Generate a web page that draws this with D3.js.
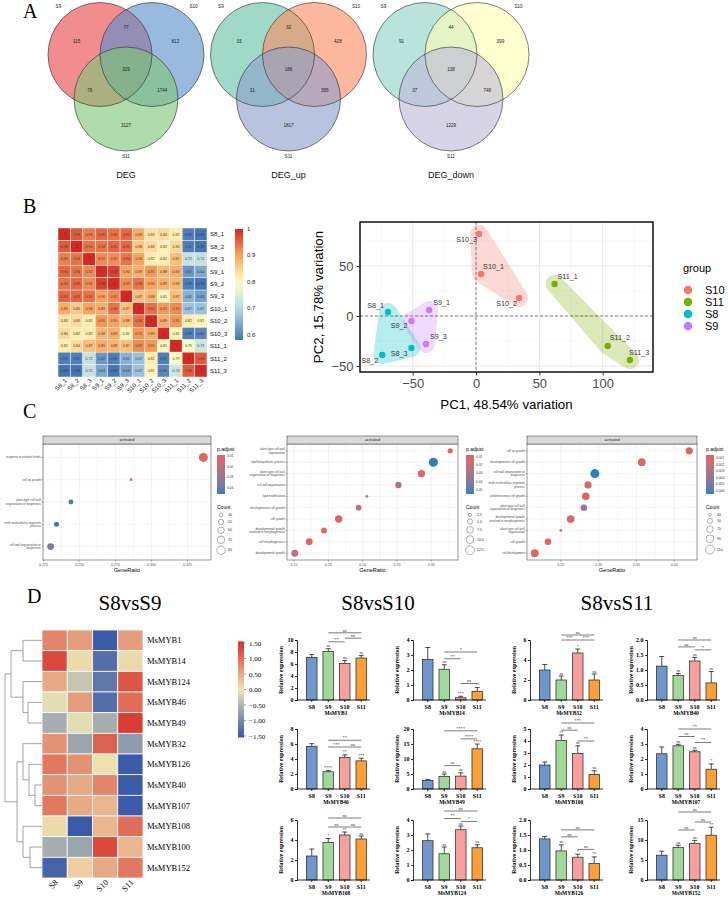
<!DOCTYPE html>
<html>
<head>
<meta charset="utf-8">
<script src="https://cdn.jsdelivr.net/npm/d3@7"></script>
<style>
  body { margin: 0; background: #fff; }
  svg { display: block; }
</style>
</head>
<body>
<svg id="fig" width="728" height="898"></svg>
<script>
// ---------------- data ----------------

// A: venn diagrams. regions: S9 only, S9&S10, S10 only, all, S9&S11, S10&S11, S11 only
const vennTitles = ['DEG', 'DEG_up', 'DEG_down'];
const vennSets = ['S9', 'S10', 'S11'];
const vennCounts = [
  [115, 77, 812, 329, 76, 1744, 3127],
  [33, 32, 428, 186, 31, 395, 1817],
  [91, 44, 399, 138, 37, 748, 1229]
];
const vennColors = [
  ['#e8474b', '#5b8fcb', '#7ec676'],
  ['#66c2a5', '#fc8d62', '#8da0cb'],
  ['#8dd3c7', '#ffffb3', '#bebada']
];

// B: sample correlation heatmap
const corrSamples = ['S8_1', 'S8_2', 'S8_3', 'S9_1', 'S9_2', 'S9_3', 'S10_1', 'S10_2', 'S10_3', 'S11_1', 'S11_2', 'S11_3'];
const corrRows = [
  [1, .96, .93, .95, .94, .95, .89, .83, .84, .82, .59, .58],
  [.96, 1, .94, .94, .95, .95, .86, .84, .82, .84, .59, .58],
  [.93, .94, 1, .92, .92, .94, .90, .82, .82, .87, .72, .72],
  [.95, .94, .92, 1, .98, .90, .89, .91, .88, .89, .62, .64],
  [.94, .95, .92, .98, 1, .92, .94, .90, .89, .88, .59, .58],
  [.95, .95, .94, .90, .92, 1, .87, .88, .81, .87, .65, .63],
  [.89, .86, .90, .89, .94, .87, 1, .94, .91, .92, .67, .67],
  [.83, .84, .82, .91, .90, .88, .94, 1, .89, .91, .82, .81],
  [.84, .82, .82, .88, .89, .81, .91, .89, 1, .81, .59, .60],
  [.82, .84, .87, .89, .88, .87, .92, .91, .81, 1, .79, .73],
  [.59, .59, .72, .62, .59, .65, .67, .82, .59, .79, 1, .96],
  [.58, .58, .72, .64, .58, .63, .67, .81, .60, .73, .96, 1]
];
const corrTicks = [0.6, 0.7, 0.8, 0.9, 1];

// B: PCA
const pcaSamples = ['S10_1', 'S10_2', 'S10_3', 'S11_1', 'S11_2', 'S11_3', 'S8_1', 'S8_2', 'S8_3', 'S9_1', 'S9_2', 'S9_3'];
const pcaGroups = ['S10', 'S10', 'S10', 'S11', 'S11', 'S11', 'S8', 'S8', 'S8', 'S9', 'S9', 'S9'];
const pc1 = [4, 34, 2.4, 62, 104, 121.5, -69.5, -74, -51, -37, -51, -39.5];
const pc2 = [42, 18, 82, 32, -30, -44, 4, -39, -32, 6, -5, -28];
const groupNames = ['S10', 'S11', 'S8', 'S9'];
const pcaXLim = [-91.6, 139.7];
const pcaYLim = [-56, 94];
const pcaXTicks = [-50, 0, 50, 100];
const pcaYTicks = [-50, 0, 50];

// C: GO dot plots
const goLeftTerms = ['response to nutrient levels', 'cell tip growth', 'plant-type cell wall organization or biogenesis', 'multi-multicellular organism process', 'cell wall organization or biogenesis'];
const goLeftRatio = [0.336, 0.2858, 0.244, 0.234, 0.2299];
const goLeftCount = [86, 36, 47, 48, 63];
const goLeftPadj = [0.009, 0.018, 0.044, 0.046, 0.036];
const goLeftTicks = [0.225, 0.25, 0.275, 0.3, 0.325];
const goLeftCountBreaks = [40, 50, 60, 70, 80];
const goLeftPadjBreaks = [0.01, 0.02, 0.03, 0.04];

const goMidTerms = ['plant-type cell wall organization', 'lipid biosynthetic process', 'plant-type cell wall organization or biogenesis', 'cell wall organization', 'lipid modification', 'developmental cell growth', 'cell growth', 'developmental growth involved in morphogenesis', 'cell morphogenesis', 'developmental growth'];
const goMidRatio = [0.3275, 0.303, 0.2855, 0.252, 0.206, 0.194, 0.165, 0.1435, 0.122, 0.101];
const goMidCount = [5, 13, 9, 7, 2, 6, 9, 6, 8, 8];
const goMidPadj = [0.012, 0.055, 0.008, 0.025, 0.02, 0.022, 0.009, 0.01, 0.009, 0.018];
const goMidTicks = [0.1, 0.15, 0.2, 0.25, 0.3];
const goMidCountBreaks = [2.5, 5, 7.5, 10, 12.5];
const goMidPadjBreaks = [0.01, 0.02, 0.03, 0.04, 0.05];

const goRightTerms = ['cell tip growth', 'developmental cell growth', 'cell wall organization or biogenesis', 'multi-multicellular organism process', 'unidimensional cell growth', 'plant-type cell wall organization or biogenesis', 'developmental growth involved in morphogenesis', 'plant-type cell wall organization', 'cell growth', 'cell development'];
const goRightRatio = [0.4198, 0.357, 0.295, 0.286, 0.283, 0.2805, 0.263, 0.25, 0.233, 0.2155];
const goRightCount = [80, 90, 112, 80, 88, 70, 88, 30, 70, 90];
const goRightPadj = [0.0005, 0.0008, 0.0065, 0.0012, 0.001, 0.0035, 0.0009, 0.0015, 0.0007, 0.0006];
const goRightTicks = [0.25, 0.3, 0.35, 0.4];
const goRightCountBreaks = [30, 50, 70, 90, 110];
const goRightPadjBreaks = [0.001, 0.002, 0.003, 0.004, 0.005, 0.006];

// D: MYB expression heatmap (z-scores)
const stages = ['S8', 'S9', 'S10', 'S11'];
const mybGenes = ['MsMYB1', 'MsMYB14', 'MsMYB124', 'MsMYB46', 'MsMYB49', 'MsMYB32', 'MsMYB126', 'MsMYB40', 'MsMYB107', 'MsMYB108', 'MsMYB100', 'MsMYB152'];
const mybZ = [
  [0.8, 0.6, -1.5, 0.6],
  [1.3, 0.1, -1.3, 0.1],
  [0.5, -0.35, -1.2, 1.2],
  [-0.1, 0.6, -1.3, 1.0],
  [-0.6, -0.1, -0.6, 1.4],
  [0.7, -0.7, 1.1, -0.8],
  [0.9, 0.7, 0.05, -1.5],
  [0.7, 0.5, 0.8, -1.5],
  [0.9, 0.5, 0.4, -1.5],
  [0.1, -1.5, 0.4, 1.0],
  [-0.6, -0.7, 1.3, 0.4],
  [-1.4, 0.2, 0.5, 0.9]
];
const mybTree = { h: 37, children: [
  { h: 31, children: [
    { h: 19, children: [{ name: 'MsMYB1' }, { name: 'MsMYB14' }] },
    { h: 19, children: [{ name: 'MsMYB124' }, { h: 14, children: [{ name: 'MsMYB46' }, { name: 'MsMYB49' }] }] }
  ] },
  { h: 25, children: [
    { h: 19, children: [{ name: 'MsMYB32' }, { h: 13, children: [{ name: 'MsMYB126' }, { h: 7, children: [{ name: 'MsMYB40' }, { name: 'MsMYB107' }] }] }] },
    { h: 19, children: [{ name: 'MsMYB108' }, { h: 12, children: [{ name: 'MsMYB100' }, { name: 'MsMYB152' }] }] }
  ] }
] };
const zTicks = [1.5, 1, 0.5, 0, -0.5, -1, -1.5];

// D: qPCR bar charts
const qGenes = ['MsMYB1', 'MsMYB14', 'MsMYB32', 'MsMYB40', 'MsMYB46', 'MsMYB49', 'MsMYB100', 'MsMYB107', 'MsMYB108', 'MsMYB124', 'MsMYB126', 'MsMYB152'];
const qMean = [
  [7.1, 8.1, 6.1, 7.0], [2.7, 2.05, 0.15, 0.58], [3.0, 2.0, 4.7, 2.0], [1.13, 0.82, 1.3, 0.57],
  [5.7, 2.3, 4.2, 3.75], [2.8, 4.2, 4.3, 13.4], [2.0, 4.05, 2.95, 1.22], [2.35, 2.88, 2.48, 1.32],
  [2.4, 3.75, 4.5, 4.1], [2.62, 1.75, 3.35, 2.15], [1.37, 0.97, 0.76, 0.55], [6.2, 8.1, 9.1, 11.2]
];
const qErr = [
  [0.5, 0.45, 0.5, 0.4], [0.8, 0.3, 0.1, 0.25], [0.55, 0.4, 0.4, 0.6], [0.32, 0.06, 0.12, 0.38],
  [0.35, 0.15, 0.35, 0.35], [0.4, 0.8, 1.1, 1.6], [0.25, 0.45, 0.65, 0.3], [0.45, 0.1, 0.1, 0.35],
  [0.7, 0.4, 0.3, 0.3], [0.45, 0.45, 0.25, 0.2], [0.08, 0.2, 0.1, 0.22], [1.0, 0.6, 0.8, 2.0]
];
const qYMax = [10, 4, 6, 2, 8, 20, 5, 4, 6, 4, 2, 15];
const qYStep = [2, 1, 2, 0.5, 2, 5, 1, 1, 2, 1, 0.5, 5];
const qSig = [
  ['', 'ns', 'ns', 'ns'], ['', 'ns', '***', '**'], ['', 'ns', '*', 'ns'], ['', 'ns', 'ns', 'ns'],
  ['', '****', '**', '***'], ['', 'ns', 'ns', '****'], ['', '**', 'ns', 'ns'], ['', 'ns', 'ns', '*'],
  ['', '*', '**', 'ns'], ['', 'ns', 'ns', 'ns'], ['', 'ns', '*', '**'], ['', 'ns', 'ns', '**']
];
// [from, to, height, label]
const qBrackets = [
  [[1, 3, 11.2, 'ns'], [2, 3, 10.3, 'ns'], [1, 2, 9.7, '**']],
  [[1, 3, 3.2, '*'], [1, 2, 2.75, '**'], [2, 3, 1.1, 'ns']],
  [[1, 3, 6.5, 'ns'], [1, 2, 6.0, '***'], [2, 3, 6.0, '***']],
  [[1, 3, 2.0, 'ns'], [1, 2, 1.77, 'ns'], [2, 3, 1.67, '*']],
  [[1, 3, 6.5, '**'], [1, 2, 5.6, '***'], [2, 3, 5.6, 'ns']],
  [[1, 3, 19.4, '****'], [2, 3, 16.7, '****'], [1, 2, 7.8, 'ns']],
  [[1, 3, 5.5, '***'], [1, 2, 4.9, 'ns'], [2, 3, 4.0, '**']],
  [[1, 3, 4.0, '**'], [1, 2, 3.5, 'ns'], [2, 3, 3.1, '**']],
  [[1, 3, 6.2, 'ns'], [1, 2, 5.3, 'ns'], [2, 3, 5.3, 'ns']],
  [[1, 3, 4.6, 'ns'], [1, 2, 4.1, '**'], [2, 3, 3.9, '*']],
  [[1, 3, 1.67, 'ns'], [1, 2, 1.44, 'ns'], [2, 3, 1.02, 'ns']],
  [[1, 3, 17.0, 'ns'], [2, 3, 14.5, 'ns'], [1, 2, 12.5, 'ns']]
];

// ---------------- drawing ----------------
const SANS = "'Liberation Sans', Arial, sans-serif";
const SERIF = "'Liberation Serif', 'Times New Roman', serif";
const svg = d3.select('#fig');
const defs = svg.append('defs');

function txt(g, x, y, s, size, opts = {}) {
  return g.append('text')
    .attr('x', x).attr('y', y)
    .attr('font-family', opts.family || SANS)
    .attr('font-size', size)
    .attr('font-weight', opts.weight || null)
    .attr('fill', opts.fill || '#000')
    .attr('text-anchor', opts.anchor || 'start')
    .text(s);
}

// panel letters
[['A', 23, 18], ['B', 23, 213], ['C', 23, 418], ['D', 27, 603]].forEach(([t, x, y]) => txt(svg, x, y, t, 20, { family: SERIF }));

// ---- A: venns ----
const vennR = 52;
const vennBase = [[100, 54.5], [152, 54.5], [126, 99]];
vennTitles.forEach((title, vi) => {
  const ox = vi * 162.5;
  const g = svg.append('g');
  const cs = vennBase.map(([x, y]) => [x + ox, y]);
  cs.forEach((c, i) => g.append('circle').attr('cx', c[0]).attr('cy', c[1]).attr('r', vennR)
    .attr('fill', vennColors[vi][i]).attr('fill-opacity', 0.62));
  cs.forEach(c => g.append('circle').attr('cx', c[0]).attr('cy', c[1]).attr('r', vennR)
    .attr('fill', 'none').attr('stroke', '#2b2b2b').attr('stroke-width', 0.6));
  const G = [d3.mean(cs, c => c[0]), d3.mean(cs, c => c[1])];
  const away = (p, k) => [G[0] + k * (p[0] - G[0]), G[1] + k * (p[1] - G[1])];
  const mid = (a, b) => [(a[0] + b[0]) / 2, (a[1] + b[1]) / 2];
  const spots = [
    away(cs[0], 1.9), away(mid(cs[0], cs[1]), 2.79), away(cs[1], 1.9), G,
    away(mid(cs[0], cs[2]), 2.79), away(mid(cs[1], cs[2]), 2.79), away(cs[2], 1.9)
  ];
  vennCounts[vi].forEach((n, i) => txt(g, spots[i][0], spots[i][1] + 1.5, n, 4.6, { anchor: 'middle', fill: '#222' }));
  txt(g, cs[0][0] - 0.8 * vennR, cs[0][1] - 0.93 * vennR + 1.5, vennSets[0], 4.6, { anchor: 'middle', fill: '#222' });
  txt(g, cs[1][0] + 0.8 * vennR, cs[1][1] - 0.93 * vennR + 1.5, vennSets[1], 4.6, { anchor: 'middle', fill: '#222' });
  txt(g, cs[2][0], cs[2][1] + vennR + 6.5, vennSets[2], 4.6, { anchor: 'middle', fill: '#222' });
  txt(g, ox + 126, 178, title, 9, { anchor: 'middle', fill: '#111' });
});

// ---- B: correlation heatmap ----
{
  const g = svg.append('g');
  const cx = d3.scaleBand().domain(corrSamples).range([58, 207]);
  const cy = d3.scaleBand().domain(corrSamples).range([228, 377]);
  const col = d3.scaleLinear().domain([0.58, 0.7, 0.8, 0.9, 1])
    .range(['#4575b4', '#b7dbea', '#ffffbf', '#fba35c', '#d02a25']);
  corrRows.forEach((row, i) => row.forEach((v, j) => {
    g.append('rect').attr('x', cx(corrSamples[j])).attr('y', cy(corrSamples[i]))
      .attr('width', cx.bandwidth()).attr('height', cy.bandwidth())
      .attr('fill', col(v)).attr('stroke', '#f4f4f4').attr('stroke-width', 0.5);
    txt(g, cx(corrSamples[j]) + cx.bandwidth() / 2, cy(corrSamples[i]) + cy.bandwidth() / 2 + 1.3,
      v === 1 ? '1' : d3.format('.2f')(v), 3.6, { anchor: 'middle', fill: '#3a3a3a' });
  }));
  corrSamples.forEach(s => {
    txt(g, 210, cy(s) + cy.bandwidth() / 2 + 2.2, s, 6, { fill: '#111' });
    g.append('text').attr('transform', `translate(${cx(s) + cx.bandwidth() / 2 + 3},${381}) rotate(-45)`)
      .attr('font-family', SANS).attr('font-size', 6).attr('text-anchor', 'end').attr('fill', '#111').text(s);
  });
  // colour key
  const ky = d3.scaleLinear().domain([0.58, 1]).range([340, 229]);
  const gid = 'corrGrad';
  const lg = defs.append('linearGradient').attr('id', gid).attr('x1', 0).attr('y1', 1).attr('x2', 0).attr('y2', 0);
  d3.range(0, 1.0001, 0.05).forEach(t => lg.append('stop').attr('offset', t).attr('stop-color', col(0.58 + t * 0.42)));
  g.append('rect').attr('x', 235).attr('y', ky(1)).attr('width', 8).attr('height', ky(0.58) - ky(1)).attr('fill', `url(#${gid})`);
  corrTicks.forEach(t => txt(g, 247, ky(t) + 2, t === 1 ? '1' : d3.format('.1f')(t), 6, { fill: '#222' }));
}

// ---- B: PCA ----
{
  const g = svg.append('g');
  const L = 360, R = 653, T = 222, B = 372;
  const x = d3.scaleLinear().domain(pcaXLim).range([L, R]);
  const y = d3.scaleLinear().domain(pcaYLim).range([B, T]);
  const color = d3.scaleOrdinal().domain(groupNames).range(['#F8766D', '#7CAE00', '#00BFC4', '#C77CFF']);
  defs.append('clipPath').attr('id', 'pcaClip').append('rect').attr('x', L).attr('y', T).attr('width', R - L).attr('height', B - T);
  g.append('rect').attr('x', L).attr('y', T).attr('width', R - L).attr('height', B - T).attr('fill', '#fff');
  const minorX = [-75, -25, 25, 75, 125], minorY = [-25, 25, 75];
  minorX.forEach(v => g.append('line').attr('x1', x(v)).attr('x2', x(v)).attr('y1', T).attr('y2', B).attr('stroke', '#f3f3f3').attr('stroke-width', 0.6));
  minorY.forEach(v => g.append('line').attr('y1', y(v)).attr('y2', y(v)).attr('x1', L).attr('x2', R).attr('stroke', '#f3f3f3').attr('stroke-width', 0.6));
  pcaXTicks.forEach(v => g.append('line').attr('x1', x(v)).attr('x2', x(v)).attr('y1', T).attr('y2', B).attr('stroke', '#e8e8e8').attr('stroke-width', 1));
  pcaYTicks.forEach(v => g.append('line').attr('y1', y(v)).attr('y2', y(v)).attr('x1', L).attr('x2', R).attr('stroke', '#e8e8e8').attr('stroke-width', 1));

  const pts = pcaSamples.map((s, i) => ({ s, grp: pcaGroups[i], px: x(pc1[i]), py: y(pc2[i]) }));
  const hullG = g.append('g').attr('clip-path', 'url(#pcaClip)');
  groupNames.forEach(grp => {
    const ring = [];
    pts.filter(p => p.grp === grp).forEach(p => {
      for (let k = 0; k < 24; k++) {
        const a = k / 24 * 2 * Math.PI;
        ring.push([p.px + 9 * Math.cos(a), p.py + 9 * Math.sin(a)]);
      }
    });
    const hull = d3.polygonHull(ring);
    hullG.append('path').attr('d', 'M' + hull.join('L') + 'Z').attr('fill', color(grp)).attr('fill-opacity', 0.28);
  });
  g.append('line').attr('x1', x(0)).attr('x2', x(0)).attr('y1', T).attr('y2', B).attr('stroke', '#555').attr('stroke-width', 0.7).attr('stroke-dasharray', '3,2');
  g.append('line').attr('y1', y(0)).attr('y2', y(0)).attr('x1', L).attr('x2', R).attr('stroke', '#555').attr('stroke-width', 0.7).attr('stroke-dasharray', '3,2');

  pts.forEach(p => g.append('circle').attr('cx', p.px).attr('cy', p.py).attr('r', 3.2).attr('fill', color(p.grp)));
  const labelPos = {
    S10_3: [-2, 8, 'end'], S10_1: [2, -5, 'start'], S10_2: [-2, 8, 'end'],
    S11_1: [3, -5, 'start'], S11_2: [2, -6, 'start'], S11_3: [-1, -5, 'start'],
    S8_1: [-4, -4, 'end'], S8_2: [-4, 8, 'end'], S8_3: [-4, 8, 'end'],
    S9_1: [4, -5, 'start'], S9_2: [-4, 7, 'end'], S9_3: [4, -5, 'start']
  };
  pts.forEach(p => {
    const [dx, dy, anc] = labelPos[p.s];
    txt(g, p.px + dx, p.py + dy, p.s, 7.2, { anchor: anc, fill: '#333' });
  });
  g.append('rect').attr('x', L).attr('y', T).attr('width', R - L).attr('height', B - T)
    .attr('fill', 'none').attr('stroke', '#000').attr('stroke-width', 1.4);

  const ax = g.append('g').attr('transform', `translate(0,${B})`)
    .call(d3.axisBottom(x).tickValues(pcaXTicks).tickSize(3.5).tickPadding(3));
  const ay = g.append('g').attr('transform', `translate(${L},0)`)
    .call(d3.axisLeft(y).tickValues(pcaYTicks).tickSize(3.5).tickPadding(3));
  [ax, ay].forEach(a => {
    a.select('.domain').remove();
    a.selectAll('line').attr('stroke', '#333').attr('stroke-width', 1);
    a.selectAll('text').attr('font-family', SANS).attr('font-size', 13).attr('fill', '#4d4d4d');
  });
  txt(g, (L + R) / 2, 409, 'PC1, 48.54% variation', 13.3, { anchor: 'middle' });
  g.append('text').attr('transform', `translate(323,${(T + B) / 2}) rotate(-90)`)
    .attr('font-family', SANS).attr('font-size', 13.3).attr('text-anchor', 'middle').text('PC2, 15.78% variation');

  txt(g, 683, 272, 'group', 11);
  groupNames.forEach((grp, i) => {
    const yy = 290 + i * 12;
    g.append('circle').attr('cx', 688).attr('cy', yy).attr('r', 4.3).attr('fill', color(grp));
    txt(g, 705, yy + 4, grp, 11);
  });
}

// ---- C: GO dot plots ----
function wrapWords(s, width) {
  const lines = [];
  let cur = '';
  s.split(' ').forEach(w => {
    if (cur && (cur + ' ' + w).length > width) { lines.push(cur); cur = w; }
    else cur = cur ? cur + ' ' + w : w;
  });
  if (cur) lines.push(cur);
  return lines;
}

function drawGO(o) {
  const g = svg.append('g');
  const sTop = 436, pTop = 444, pBot = 560;
  const ext = d3.extent(o.ratio);
  const pad = (ext[1] - ext[0]) * 0.05;
  const x = d3.scaleLinear().domain([ext[0] - pad, ext[1] + pad]).range([o.x0, o.x1]);
  const y = d3.scalePoint().domain(o.terms).range([pTop, pBot]).padding(0.6);
  const r = d3.scaleRadial().domain(d3.extent(o.count)).range([1.4, 4.5]).clamp(true);
  const pd = d3.extent(o.padj);
  const color = d3.scaleLinear().domain(pd).range(['#e06663', '#327eba']).interpolate(d3.interpolateLab).clamp(true);

  g.append('rect').attr('x', o.x0).attr('y', pTop).attr('width', o.x1 - o.x0).attr('height', pBot - pTop).attr('fill', '#fff');
  const step = o.ticks[1] - o.ticks[0];
  o.ticks.forEach(t => {
    [t - step / 2, t + step / 2].forEach(v => {
      if (x(v) > o.x0 && x(v) < o.x1) g.append('line').attr('x1', x(v)).attr('x2', x(v)).attr('y1', pTop).attr('y2', pBot).attr('stroke', '#f5f5f5').attr('stroke-width', 0.4);
    });
    g.append('line').attr('x1', x(t)).attr('x2', x(t)).attr('y1', pTop).attr('y2', pBot).attr('stroke', '#ebebeb').attr('stroke-width', 0.6);
  });
  o.terms.forEach(t => g.append('line').attr('x1', o.x0).attr('x2', o.x1).attr('y1', y(t)).attr('y2', y(t)).attr('stroke', '#ebebeb').attr('stroke-width', 0.6));

  o.terms.forEach((t, i) => g.append('circle').attr('cx', x(o.ratio[i])).attr('cy', y(t))
    .attr('r', r(o.count[i])).attr('fill', color(o.padj[i])));

  g.append('rect').attr('x', o.x0).attr('y', pTop).attr('width', o.x1 - o.x0).attr('height', pBot - pTop)
    .attr('fill', 'none').attr('stroke', '#333').attr('stroke-width', 0.5);
  g.append('rect').attr('x', o.x0).attr('y', sTop).attr('width', o.x1 - o.x0).attr('height', pTop - sTop)
    .attr('fill', '#d9d9d9').attr('stroke', '#333').attr('stroke-width', 0.5);
  txt(g, (o.x0 + o.x1) / 2, sTop + 5.4, 'activated', 3.8, { anchor: 'middle', fill: '#1a1a1a' });

  o.terms.forEach(t => {
    const lines = wrapWords(t, 28);
    g.append('line').attr('x1', o.x0 - 1.5).attr('x2', o.x0).attr('y1', y(t)).attr('y2', y(t)).attr('stroke', '#333').attr('stroke-width', 0.4);
    lines.forEach((ln, k) => txt(g, o.x0 - 2.2, y(t) + 1.1 + (k - (lines.length - 1) / 2) * 3.4, ln, 3, { anchor: 'end', fill: '#4d4d4d' }));
  });
  o.ticks.forEach(v => {
    g.append('line').attr('x1', x(v)).attr('x2', x(v)).attr('y1', pBot).attr('y2', pBot + 1.5).attr('stroke', '#333').attr('stroke-width', 0.4);
    txt(g, x(v), pBot + 5.5, d3.format(o.tickFmt)(v), 3.6, { anchor: 'middle', fill: '#4d4d4d' });
  });
  txt(g, (o.x0 + o.x1) / 2, pBot + 12, 'GeneRatio', 5.5, { anchor: 'middle' });

  // legends
  const lx = o.lx;
  txt(g, lx, 451, 'p.adjust', 5);
  const gid = 'goGrad' + o.x0;
  const lg = defs.append('linearGradient').attr('id', gid).attr('x1', 0).attr('y1', 0).attr('x2', 0).attr('y2', 1);
  d3.range(0, 1.0001, 0.1).forEach(t => lg.append('stop').attr('offset', t).attr('stop-color', color(pd[0] + t * (pd[1] - pd[0]))));
  const ly = d3.scaleLinear().domain(pd).range([455, 494]);
  g.append('rect').attr('x', lx).attr('y', 455).attr('width', 8).attr('height', 39).attr('fill', `url(#${gid})`);
  o.padjBreaks.forEach(v => {
    if (v < pd[0] || v > pd[1]) return;
    txt(g, lx + 10, ly(v) + 1.2, d3.format(o.padjFmt)(v), 3.3, { fill: '#333' });
  });
  txt(g, lx, 509, 'Count', 5);
  let cy = 512;
  o.countBreaks.forEach(v => {
    const rr = r(v);
    cy += rr + 1.2;
    g.append('circle').attr('cx', lx + 4).attr('cy', cy).attr('r', rr).attr('fill', 'none').attr('stroke', '#333').attr('stroke-width', 0.4);
    txt(g, lx + 11, cy + 1.2, d3.format(o.countFmt)(v), 3.5, { fill: '#333' });
    cy += rr + 1.2;
  });
}

drawGO({ x0: 43, x1: 211, lx: 217, terms: goLeftTerms, ratio: goLeftRatio, count: goLeftCount, padj: goLeftPadj,
  ticks: goLeftTicks, tickFmt: '.3f', countBreaks: goLeftCountBreaks, countFmt: 'd', padjBreaks: goLeftPadjBreaks, padjFmt: '.2f' });
drawGO({ x0: 287, x1: 458, lx: 466, terms: goMidTerms, ratio: goMidRatio, count: goMidCount, padj: goMidPadj,
  ticks: goMidTicks, tickFmt: '.2f', countBreaks: goMidCountBreaks, countFmt: '.1f', padjBreaks: goMidPadjBreaks, padjFmt: '.2f' });
drawGO({ x0: 527, x1: 697, lx: 706, terms: goRightTerms, ratio: goRightRatio, count: goRightCount, padj: goRightPadj,
  ticks: goRightTicks, tickFmt: '.2f', countBreaks: goRightCountBreaks, countFmt: 'd', padjBreaks: goRightPadjBreaks, padjFmt: '.3f' });

// ---- D: titles ----
[['S8vsS9', 130], ['S8vsS10', 378], ['S8vsS11', 617]].forEach(([t, x]) => txt(svg, x, 610, t, 21, { family: SERIF, anchor: 'middle' }));

// ---- D: heatmap + dendrogram ----
{
  const g = svg.append('g');
  const hx = d3.scaleBand().domain(stages).range([42, 143]);
  const hy = d3.scaleBand().domain(mybGenes).range([630, 878]);
  const zc = d3.scaleLinear().domain([-1.5, 0, 1.5]).range(['#3b5ba8', '#efe6b4', '#d7312a']).clamp(true);
  mybZ.forEach((row, i) => row.forEach((v, j) => {
    g.append('rect').attr('x', hx(stages[j])).attr('y', hy(mybGenes[i]))
      .attr('width', hx.bandwidth()).attr('height', hy.bandwidth())
      .attr('fill', zc(v)).attr('stroke', '#fff').attr('stroke-width', 0.8);
  }));
  mybGenes.forEach(gn => txt(g, 147, hy(gn) + hy.bandwidth() / 2 + 3, gn, 8.5, { family: SERIF }));
  stages.forEach(s => g.append('text')
    .attr('transform', `translate(${hx(s) + hx.bandwidth() / 2 + 4},${883}) rotate(-45)`)
    .attr('font-family', SERIF).attr('font-size', 8.5).attr('text-anchor', 'end').text(s));

  // dendrogram
  const root = d3.hierarchy(mybTree);
  const dx = d3.scaleLinear().domain([0, mybTree.h]).range([42, 5]);
  root.eachAfter(n => {
    n.hy = n.children ? d3.mean(n.children, c => c.hy) : hy(n.data.name) + hy.bandwidth() / 2;
    n.hx = dx(n.data.h || 0);
  });
  root.each(n => {
    if (!n.children) return;
    const ys = n.children.map(c => c.hy);
    g.append('line').attr('x1', n.hx).attr('x2', n.hx).attr('y1', d3.min(ys)).attr('y2', d3.max(ys))
      .attr('stroke', '#8a8a8a').attr('stroke-width', 0.8);
    n.children.forEach(c => g.append('line').attr('x1', n.hx).attr('x2', c.hx).attr('y1', c.hy).attr('y2', c.hy)
      .attr('stroke', '#8a8a8a').attr('stroke-width', 0.8));
  });

  // colour key
  const ky = d3.scaleLinear().domain([-1.5, 1.5]).range([736, 643]);
  const lg = defs.append('linearGradient').attr('id', 'zGrad').attr('x1', 0).attr('y1', 1).attr('x2', 0).attr('y2', 0);
  d3.range(0, 1.0001, 0.05).forEach(t => lg.append('stop').attr('offset', t).attr('stop-color', zc(-1.55 + t * 3.1)));
  g.append('rect').attr('x', 238).attr('y', ky(1.55)).attr('width', 6).attr('height', ky(-1.55) - ky(1.55)).attr('fill', 'url(#zGrad)');
  zTicks.forEach(v => {
    g.append('line').attr('x1', 244).attr('x2', 246).attr('y1', ky(v)).attr('y2', ky(v)).attr('stroke', '#444').attr('stroke-width', 0.5);
    txt(g, 249, ky(v) + 2.5, d3.format('.2f')(v), 7, { family: SERIF });
  });
}

// ---- D: qPCR bars ----
{
  const colX = [297, 413, 530, 647];
  const rowBase = [700, 789, 880];
  const barFill = d3.scaleOrdinal().domain(stages).range(['#7097cb', '#a3d89b', '#f6a0a0', '#f7a03c']);
  qGenes.forEach((gene, k) => {
    const g = svg.append('g');
    const ax = colX[k % 4], base = rowBase[Math.floor(k / 4)];
    const x = d3.scaleBand().domain(stages).range([ax + 6.5, ax + 72.5]).paddingInner(0.36).paddingOuter(0.18);
    const y = d3.scaleLinear().domain([0, qYMax[k]]).range([base, base - 60]);
    const c = s => x(s) + x.bandwidth() / 2;

    stages.forEach((s, i) => {
      const m = qMean[k][i], e = qErr[k][i];
      g.append('line').attr('x1', c(s)).attr('x2', c(s)).attr('y1', y(m)).attr('y2', y(m + e)).attr('stroke', '#000').attr('stroke-width', 0.7);
      g.append('line').attr('x1', c(s) - 2.5).attr('x2', c(s) + 2.5).attr('y1', y(m + e)).attr('y2', y(m + e)).attr('stroke', '#000').attr('stroke-width', 0.7);
      g.append('rect').attr('x', x(s)).attr('y', y(m)).attr('width', x.bandwidth()).attr('height', base - y(m))
        .attr('fill', barFill(s)).attr('stroke', '#222').attr('stroke-width', 0.7);
      if (qSig[k][i]) txt(g, c(s), y(m + e) - 1.5, qSig[k][i], 4.2, { anchor: 'middle', family: SERIF, fill: '#222' });
    });
    qBrackets[k].forEach(([a, b, h, lab]) => {
      g.append('line').attr('x1', c(stages[a])).attr('x2', c(stages[b])).attr('y1', y(h)).attr('y2', y(h)).attr('stroke', '#222').attr('stroke-width', 0.6);
      txt(g, (c(stages[a]) + c(stages[b])) / 2, y(h) - 1.2, lab, 4.3, { anchor: 'middle', family: SERIF, fill: '#222' });
    });

    const yTicks = d3.range(0, qYMax[k] + 1e-9, qYStep[k]);
    const ay = g.append('g').attr('transform', `translate(${ax},0)`)
      .call(d3.axisLeft(y).tickValues(yTicks).tickSize(2).tickPadding(1.5).tickFormat(d3.format(qYStep[k] < 1 ? '.1f' : 'd')));
    ay.select('.domain').attr('stroke', '#000').attr('stroke-width', 0.8);
    ay.selectAll('line').attr('stroke', '#000').attr('stroke-width', 0.8);
    ay.selectAll('text').attr('font-family', SERIF).attr('font-weight', 'bold').attr('font-size', 6);

    g.append('line').attr('x1', ax).attr('x2', ax + 73).attr('y1', base).attr('y2', base).attr('stroke', '#000').attr('stroke-width', 0.8);
    stages.forEach(s => {
      g.append('line').attr('x1', c(s)).attr('x2', c(s)).attr('y1', base).attr('y2', base + 2).attr('stroke', '#000').attr('stroke-width', 0.8);
      txt(g, c(s), base + 8.5, s, 6, { anchor: 'middle', family: SERIF, weight: 'bold' });
    });
    txt(g, ax + 39, base + 15, gene, 5.5, { anchor: 'middle', family: SERIF, weight: 'bold' });
    g.append('text').attr('transform', `translate(${ax - 14},${base - 30}) rotate(-90)`)
      .attr('font-family', SERIF).attr('font-weight', 'bold').attr('font-size', 5.8).attr('text-anchor', 'middle')
      .text('Relative expression');
  });
}
</script>
</body>
</html>
